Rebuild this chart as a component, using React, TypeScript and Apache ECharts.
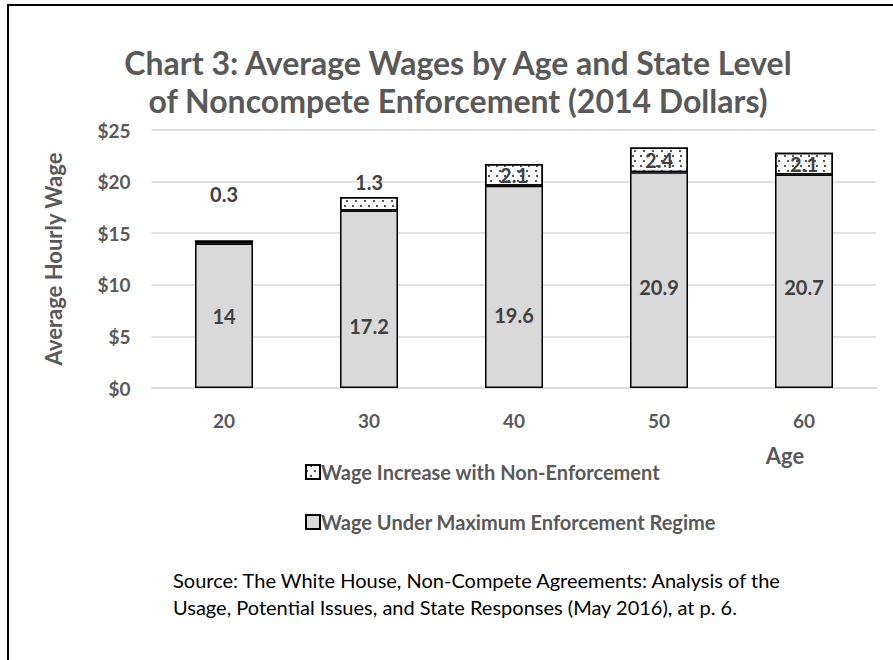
import React, { useEffect, useRef } from "react";
import * as echarts from "echarts";

const categories = ["20", "30", "40", "50", "60"];
const baseValues = [14, 17.2, 19.6, 20.9, 20.7];
const increaseValues = [0.3, 1.3, 2.1, 2.4, 2.1];
const baseName = "Wage Under Maximum Enforcement Regime";
const increaseName = "Wage Increase with Non-Enforcement";
const titleLines = [
  "Chart 3: Average Wages by Age and State Level",
  "of Noncompete Enforcement (2014 Dollars)",
];
const sourceLines = [
  "Source: The White House, Non-Compete Agreements: Analysis of the",
  "Usage, Potential Issues, and State Responses (May 2016), at p. 6.",
];

export default function App() {
  const ref = useRef<HTMLDivElement>(null);
  useEffect(() => {
    if (!ref.current) return;
    const chart = echarts.init(ref.current, undefined, { renderer: "svg" });
    const font = "Lato, 'Open Sans', sans-serif";
    const gray = "#595959";
    const baseOffsets = [0, 27, 28, 7, 6];
    const incLabelOutside = [true, true, false, false, false];
    const incDistances = [36, 5, 0, 0, 0];
    chart.setOption({
      animation: false,
      textStyle: { fontFamily: font },
      grid: { left: 151.5, right: 16.5, top: 130, height: 258 },
      legend: {
        orient: "vertical",
        left: 300,
        top: 457,
        itemGap: 30,
        itemWidth: 14,
        itemHeight: 14,
        icon: "rect",
        data: [increaseName, baseName],
        textStyle: { fontFamily: font, fontWeight: "bold", fontSize: 20, color: gray, padding: [0, 0, 0, -4] },
      },
      xAxis: {
        type: "category",
        data: categories,
        axisLine: { lineStyle: { color: "#d9d9d9", width: 1.5 } },
        axisTick: { show: false },
        axisLabel: { fontFamily: font, fontWeight: "bold", fontSize: 19, color: gray, margin: 23 },
      },
      yAxis: {
        type: "value",
        min: 0,
        max: 25,
        interval: 5,
        name: "Average Hourly Wage",
        nameLocation: "middle",
        nameRotate: 90,
        nameGap: 87,
        nameTextStyle: { fontFamily: font, fontWeight: "bold", fontSize: 22, color: gray },
        axisLabel: {
          fontFamily: font,
          fontWeight: "bold",
          fontSize: 19,
          color: gray,
          margin: 21,
          formatter: (v: number) => "$" + v,
        },
        splitLine: { lineStyle: { color: "#d9d9d9", width: 1.5 } },
      },
      series: [
        {
          name: baseName,
          type: "bar",
          stack: "w",
          barWidth: "40%",
          itemStyle: { color: "#d9d9d9", borderColor: "#000", borderWidth: 1.5 },
          data: baseValues.map((v, i) => ({
            value: v,
            label: {
              show: true,
              position: "inside",
              offset: [0, baseOffsets[i]],
              fontFamily: font,
              fontWeight: "bold",
              fontSize: 20,
              color: "#404040",
            },
          })),
        },
        {
          name: increaseName,
          type: "bar",
          stack: "w",
          itemStyle: {
            color: "#ffffff",
            borderColor: "#000",
            borderWidth: 1.5,
            decal: {
              symbol: "rect",
              symbolSize: 1,
              color: "#555555",
              dashArrayX: [[1.2, 5.8], [0, 3.5, 1.2, 2.3]],
              dashArrayY: [1.2, 2.8],
              rotation: 0,
            },
          },
          data: increaseValues.map((v, i) => ({
            value: v,
            label: {
              show: true,
              position: incLabelOutside[i] ? "top" : "inside",
              distance: incDistances[i] || 5,
              fontFamily: font,
              fontWeight: "bold",
              fontSize: 20,
              color: "#404040",
            },
          })),
        },
      ],
      graphic: [
        {
          type: "rect",
          shape: { x: 8, y: 5, width: 950, height: 720 },
          style: { fill: "none", stroke: "#000", lineWidth: 2 },
          silent: true,
        },
        ...titleLines.map((t, i) => ({
          type: "text",
          x: 458,
          y: 62 + i * 38,
          style: {
            text: t,
            font: `bold 32px ${font}`,
            fill: gray,
            textAlign: "center",
            textVerticalAlign: "middle",
          },
        })),
        {
          type: "text",
          x: 785,
          y: 455,
          style: {
            text: "Age",
            font: `bold 22px ${font}`,
            fill: gray,
            textAlign: "center",
            textVerticalAlign: "middle",
          },
        },
        ...sourceLines.map((t, i) => ({
          type: "text",
          x: 173,
          y: 580 + i * 27,
          style: { text: t, font: `20px ${font}`, fill: "#000", textVerticalAlign: "middle" },
        })),
      ],
    });
    return () => chart.dispose();
  }, []);
  return (
    <div
      ref={ref}
      style={{ position: "fixed", left: 0, top: 0, width: 893, height: 660, background: "#fff" }}
    />
  );
}
